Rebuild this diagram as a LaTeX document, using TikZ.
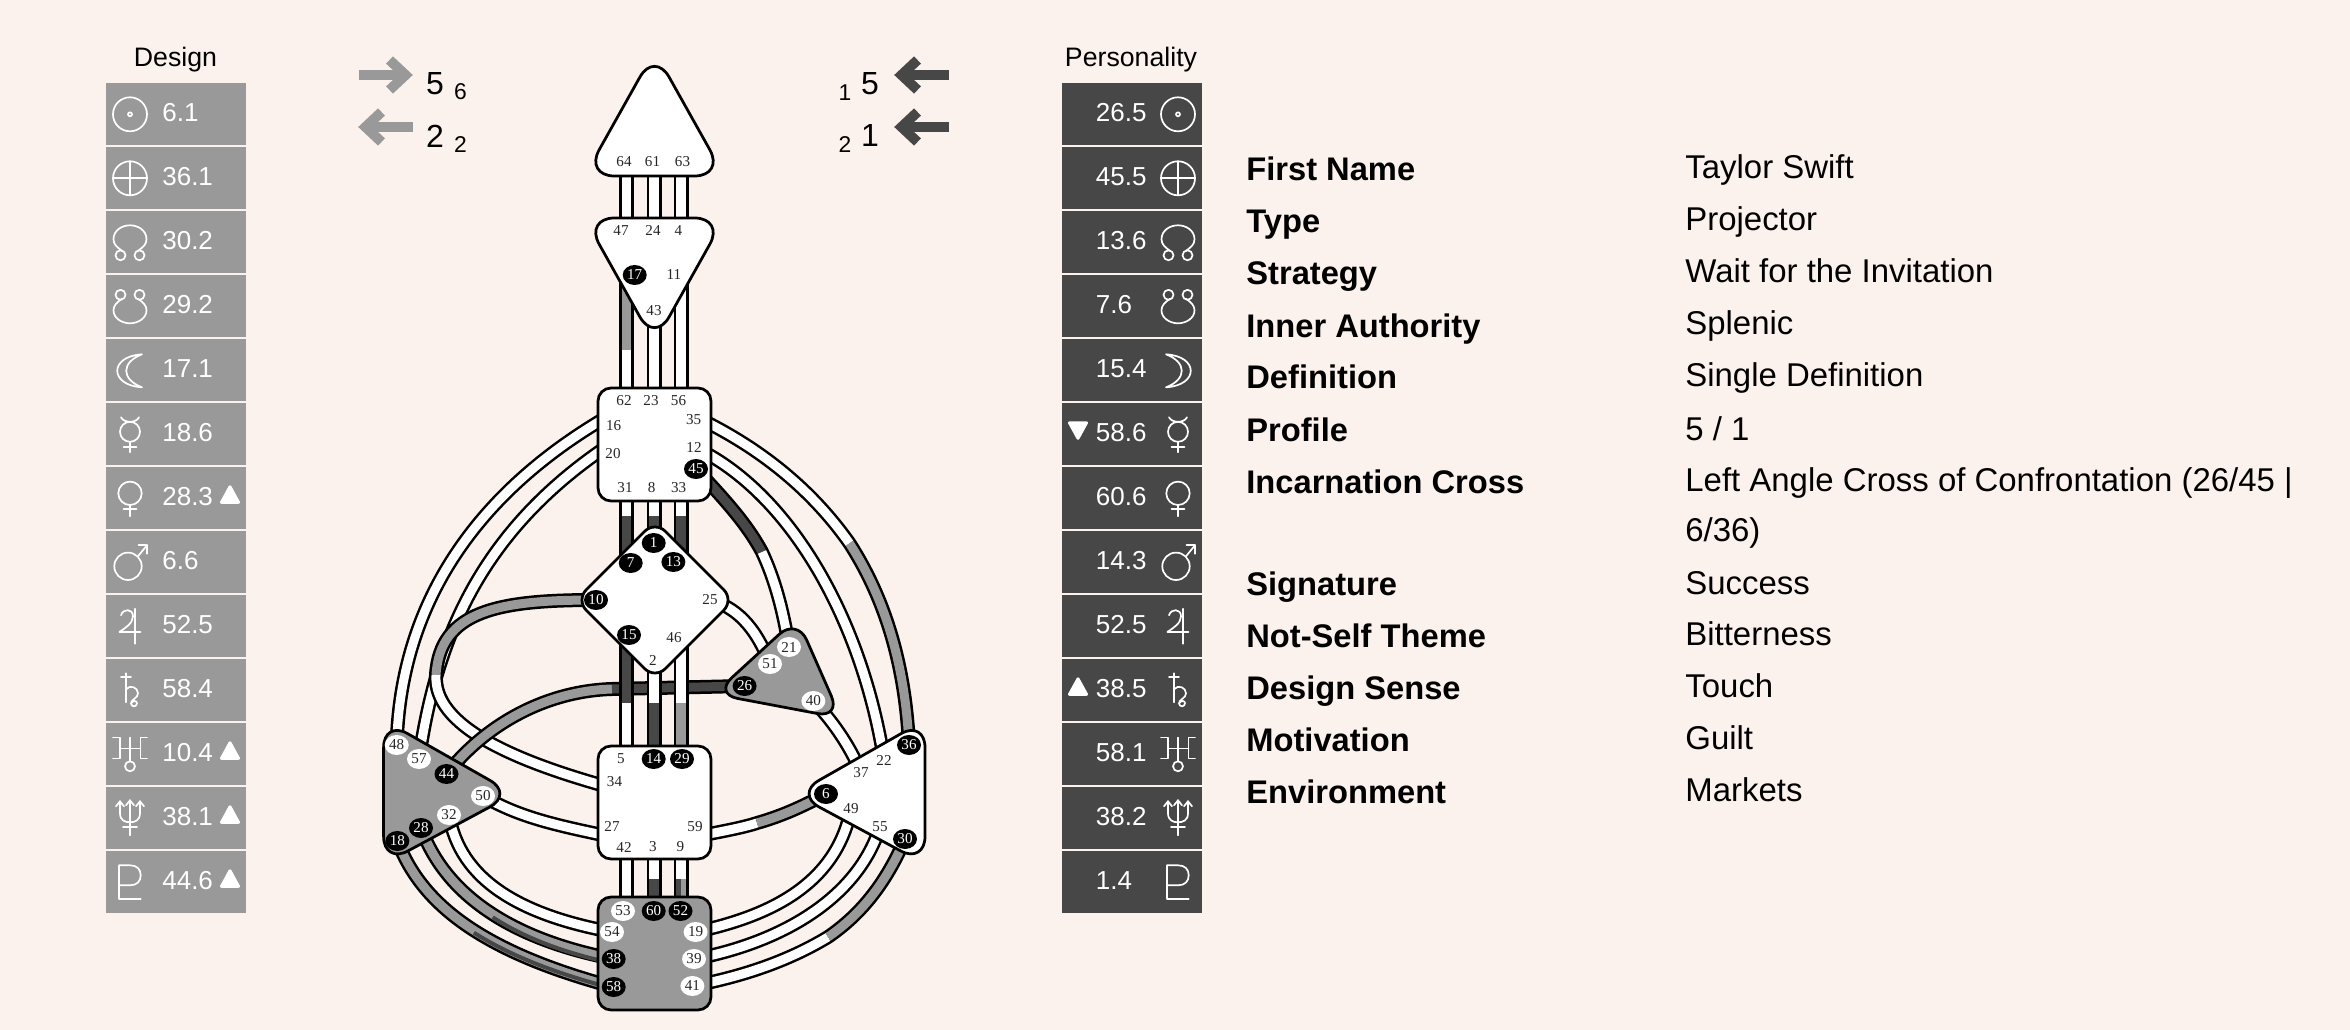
\documentclass[tikz,border=0pt]{standalone}
\usepackage{fontspec}
\setmainfont{Liberation Sans}
\newfontfamily\gatefont{Liberation Serif}
\usetikzlibrary{shapes.geometric,backgrounds}

\definecolor{pagebg}{HTML}{FCF2ED}
\definecolor{cgray}{HTML}{999999}
\definecolor{cdark}{HTML}{474747}

\def\chout{0.28cm}
\def\chin{0.18cm}
\newcommand{\chan}[2]{\draw[chanline] #1; \draw[chanfill,#2] #1;}
\newcommand{\chantwo}[7]{\draw[chanline] #1 #2 #3 #4 #5; \draw[chanfill,#6] #1 #2 #3; \draw[chanfill,#7] #3 #4 #5;}

\tikzset{
    chanline/.style={line width=\chout,black},
    chanfill/.style={line width=\chin},
    centerw/.style={draw=black,fill=white,line width=0.055cm},
    centerg/.style={draw=black,fill=cgray,line width=0.055cm},
    squarew/.style={centerw,rectangle,rounded corners=0.26cm,minimum width=2.26cm,minimum height=2.26cm,inner sep=0},
    squareg/.style={squarew,fill=cgray},
    gate/.style={font=\gatefont\fontsize{8.6}{10}\selectfont,inner sep=0,text=black!85},
    gateb/.style={gate,ellipse,fill=black,text=white,minimum width=0.48cm,minimum height=0.4cm},
    gatew/.style={gate,ellipse,fill=white,minimum width=0.48cm,minimum height=0.4cm},
    rowbox/.style={rectangle,minimum width=2.8cm,minimum height=1.24cm,inner sep=0},
    rowval/.style={font=\fontsize{14.8}{17}\selectfont,text=white,anchor=base west,inner sep=0},
    head/.style={font=\fontsize{15.2}{18}\selectfont,inner sep=0,anchor=base},
    tablab/.style={font=\bfseries\fontsize{18.6}{22}\selectfont,anchor=base west,inner sep=0},
    tabval/.style={font=\fontsize{18.75}{22}\selectfont,anchor=base west,inner sep=0},
    bignum/.style={font=\fontsize{18.2}{22}\selectfont,inner sep=0},
    subnum/.style={font=\fontsize{13}{16}\selectfont,inner sep=0},
    symb/.style={draw=white,line width=0.034cm,line cap=round,line join=round},
    pics/sun/.style={code={\draw[symb] (0,0) circle (17); \draw[symb] (0,0) circle (2);}},
    pics/earth/.style={code={\draw[symb] (0,0) circle (17); \draw[symb] (-17,0) -- (17,0); \draw[symb] (0,-17) -- (0,17);}},
    pics/nnode/.style={code={
        \draw[symb] (-8,8.5) .. controls (-13,5) and (-16.5,2) .. (-16.5,-3) .. controls (-16.5,-12) and (-8,-17) .. (0,-17)
            .. controls (8,-17) and (16.5,-12) .. (16.5,-3) .. controls (16.5,2) and (13,5) .. (8,8.5);
        \draw[symb] (-9.5,13) circle (5); \draw[symb] (9.5,13) circle (5);}},
    pics/snode/.style={code={
        \draw[symb] (-8,-7.5) .. controls (-13,-4) and (-16.5,-1) .. (-16.5,4) .. controls (-16.5,12) and (-8,17) .. (0,17)
            .. controls (8,17) and (16.5,12) .. (16.5,4) .. controls (16.5,-1) and (13,-4) .. (8,-7.5);
        \draw[symb] (-9.5,-11.5) circle (5); \draw[symb] (9.5,-11.5) circle (5);}},
    pics/moonl/.style={code={\draw[symb] (12,-16) .. controls (-21,-14) and (-21,15) .. (12,17) .. controls (-9,9) and (-9,-8) .. (12,-16) -- cycle;}},
    pics/moonr/.style={code={\draw[symb] (-12,-16) .. controls (21,-14) and (21,15) .. (-12,17) .. controls (9,9) and (9,-8) .. (-12,-16) -- cycle;}},
    pics/mercury/.style={code={
        \draw[symb] (0,-2.5) circle (10); \draw[symb] (0,7.5) -- (0,18); \draw[symb] (-6.5,12.5) -- (6.5,12.5);
        \draw[symb] (-9,-17) .. controls (-6,-11) and (6,-11) .. (9,-17);}},
    pics/venus/.style={code={\draw[symb] (0,-5) circle (11.7); \draw[symb] (0,6.7) -- (0,18); \draw[symb] (-6.5,11) -- (6.5,11);}},
    pics/mars/.style={code={
        \draw[symb] (-2,4) circle (13.7); \draw[symb] (7.7,-5.7) -- (17,-17);
        \draw[symb] (8.5,-17) -- (17,-17) -- (17,-8.5);}},
    pics/jupiter/.style={code={
        \draw[symb] (5,-17.5) -- (5,17.5); \draw[symb] (-10.5,5.5) -- (10.5,5.5);
        \draw[symb] (-9,-11) .. controls (-7,-18) and (3,-18) .. (3,-10) .. controls (3,-3) and (-5,2) .. (-10.5,5.5);}},
    pics/saturn/.style={code={
        \draw[symb] (-4,-17) -- (-4,12); \draw[symb] (-9,-13) -- (1,-13);
        \draw[symb] (-4,-1) .. controls (0,-6) and (8,-3) .. (8,3) .. controls (8,8) and (1,9) .. (1,13)
            .. controls (1,17) and (7,17) .. (7,13) .. controls (7,10) and (3,10) .. (1,13);}},
    pics/uranus/.style={code={
        \draw[symb] (0,12) circle (5); \draw[symb] (0,-16.7) -- (0,7); \draw[symb] (-10,-5.7) -- (10.5,-5.7);
        \draw[symb] (-17,-16.7) -- (-10,-16.7) -- (-10,4.3) -- (-17,4.3);
        \draw[symb] (17,-16.7) -- (10.5,-16.7) -- (10.5,4.3) -- (17,4.3);}},
    pics/neptune/.style={code={
        \draw[symb] (0,-18) -- (0,17); \draw[symb] (-7,9) -- (7,9);
        \draw[symb] (-10,-17) -- (-10,-5) .. controls (-10,2) and (-5,4) .. (0,4) .. controls (5,4) and (10,2) .. (10,-5) -- (10,-17);
        \draw[symb] (-14,-12) -- (-10,-17) -- (-6,-12);
        \draw[symb] (-4,-13) -- (0,-18) -- (4,-13);
        \draw[symb] (6,-12) -- (10,-17) -- (14,-12);}},
    pics/pluto/.style={code={
        \draw[symb] (-10.7,-17) -- (-10.7,17) -- (10.7,17);
        \draw[symb] (-10.7,-17) -- (0,-17) .. controls (7,-17) and (10.7,-13) .. (10.7,-7) .. controls (10.7,-1) and (7,3) .. (0,3) -- (-10.7,3);}},
    pics/markup/.style={code={\fill[white,draw=white,line width=0.06cm,line join=round] (-8.5,4) -- (8.5,4) -- (0,-11.5) -- cycle;}},
    pics/markdown/.style={code={\fill[white,draw=white,line width=0.06cm,line join=round] (-8.5,-11.5) -- (8.5,-11.5) -- (0,4) -- cycle;}},
    pics/arrowr/.style={code={\draw[line width=0.2cm] (-27,0) -- (20,0); \draw[line width=0.2cm] (4,-15) -- (20,0) -- (4,15);}},
    pics/arrowl/.style={code={\draw[line width=0.2cm] (27,0) -- (-20,0); \draw[line width=0.2cm] (-4,-15) -- (-20,0) -- (-4,15);}},
}

\begin{document}
\begin{tikzpicture}[x=0.02cm,y=-0.02cm]
    \useasboundingbox (0,0) rectangle (2350,1030);

    % left and right panels
    \node[head] (design) at (175.5,67) {Design};
    \node[head] (personality) at (1131,67) {Personality};
    \foreach \sym/\val [count=\i from 0] in {sun/6.1,earth/36.1,nnode/30.2,snode/29.2,moonl/17.1,mercury/18.6,venus/28.3,mars/6.6,jupiter/52.5,saturn/58.4,uranus/10.4,neptune/38.1,pluto/44.6}{
        \pgfmathsetmacro\ypos{114.3+64*\i}
        \node[rowbox,fill=cgray] (drow\i) at (176,\ypos) {};
        \node[rowval] (dval\i) at (162,\ypos+7.5) {\val};
        \path (130,\ypos) pic {\sym};
    }
    \foreach \sym/\val [count=\i from 0] in {sun/26.5,earth/45.5,nnode/13.6,snode/7.6,moonr/15.4,mercury/58.6,venus/60.6,mars/14.3,jupiter/52.5,saturn/38.5,uranus/58.1,neptune/38.2,pluto/1.4}{
        \pgfmathsetmacro\ypos{114.3+64*\i}
        \node[rowbox,fill=cdark] (prow\i) at (1132,\ypos) {};
        \node[rowval] (pval\i) at (1095.5,\ypos+7.5) {\val};
        \path (1178,\ypos) pic {\sym};
    }
    \foreach \i in {6,10,11,12}
        \path (230,114.3+64*\i) pic {markup};
    \path (1078,114.3+64*5) pic {markdown};
    \path (1078,114.3+64*9) pic {markup};

    % arrows at the top
    \begin{scope}[cgray]
        \path (385.5,75) pic {arrowr};
        \path (385.5,127) pic {arrowl};
    \end{scope}
    \begin{scope}[cdark]
        \path (921.5,75) pic {arrowl};
        \path (921.5,127) pic {arrowl};
    \end{scope}
    \node[bignum] (dline) at (435,84) {5};
    \node[subnum] (dcolor) at (460.5,92) {6};
    \node[bignum] (dtone) at (435,136) {2};
    \node[subnum] (dbase) at (460.5,145) {2};
    \node[bignum] (pline) at (870,84) {5};
    \node[subnum] (pcolor) at (845,93) {1};
    \node[bignum] (ptone) at (870,136) {1};
    \node[subnum] (pbase) at (845,145) {2};

    % table
    \foreach \lab/\val/\yl/\yv [count=\i] in {First Name/Taylor Swift/181/179,Type/Projector/233/231,Strategy/Wait for the Invitation/285/283,Inner Authority/Splenic/338/335,Definition/Single Definition/389/387,Profile/{5 / 1}/441/440,Incarnation Cross/{Left Angle Cross of Confrontation (26/45 |}/494/491,Signature/Success/595/594,Not-Self Theme/Bitterness/647/645,Design Sense/Touch/699/697,Motivation/Guilt/751/749,Environment/Markets/803/801}{
        \node[tablab] (lab\i) at (1246,\yl) {\lab};
        \node[tabval] (val\i) at (1685,\yv) {\val};
    }
    \node[tabval] (valcross) at (1685,541) {6/36)};

    % centers
    \draw[centerw,rounded corners=0.6cm] (654.5,51) -- (724.5,176) -- (584.5,176) -- cycle;
    \draw[centerw,rounded corners=0.6cm] (584.5,218) -- (724.5,218) -- (654.5,343) -- cycle;
    \node[squarew] (throat) at (654.5,444.5) {};
    \draw[centerw,rounded corners=0.29cm] (655,521) -- (734,600) -- (655,679) -- (576,600) -- cycle;
    \draw[centerg,rounded corners=0.48cm] (797,618) -- (841,718) -- (714,694) -- cycle;
    \node[squarew] (sacral) at (654.5,802.5) {};
    \node[squareg] (root) at (654.5,953.5) {};
    \draw[centerg,rounded corners=0.55cm] (383.6,720) -- (514,794) -- (383.6,864) -- cycle;
    \draw[centerw,rounded corners=0.55cm] (925,720) -- (795,794) -- (925,864) -- cycle;

    % gates
    \foreach \g/\gx/\gy in {64/624/162,61/652.5/162,63/682.5/162,47/621/231,24/653/231,4/678.5/231,11/674/275,43/654/311,62/624/401,23/651/401,56/678.5/401,16/613.7/426,20/613/454,35/693.6/420,12/694/447,31/625/488,8/651.7/488,33/678.6/488,25/710/600,46/674/638,2/653/660,22/884/760,37/861/773,49/851/809,55/880/827,5/621/759,34/614.5/782,27/612/826,59/695/827,42/624/847,3/653/847,9/680.5/847}
        \node[gate] (g\g) at (\gx,\gy) {\g};
    \foreach \g/\gx/\gy in {17/634.7/275,45/696/469,1/653.7/543,7/630.7/563,13/673.4/562,10/596/600,15/629/635,26/744.6/686,44/446.5/774,28/421/828,18/397.4/841,36/909/745,6/826/794,30/905/839,14/653.7/759,29/682/759,60/653.7/911,52/680.5/911,38/613.7/959,58/613.7/987}
        \node[gateb] (g\g) at (\gx,\gy) {\g};
    \foreach \g/\gx/\gy in {21/789/647,51/770/664,40/813.4/701,48/396.7/745,57/419/759,50/483/796,32/449/815,53/623/911,54/612/932,19/695.6/932,39/694/959,41/692.4/986}
        \node[gatew] (g\g) at (\gx,\gy) {\g};

    % channels go under the centers
    \begin{pgfonlayer}{background}
        \fill[pagebg] (0,0) rectangle (2350,1030);
        \coordinate (p16) at (612,414);
        \coordinate (p20) at (612,443);
        \coordinate (p34) at (612,788);
        \coordinate (p27) at (612,837);
        \coordinate (p59) at (698,836);
        \coordinate (p35) at (698,418);
        \coordinate (m10) at (436,675);
        \coordinate (m44) at (612,689);
        \coordinate (m36) at (849.5,543.3);
        \coordinate (m45) at (762,552);
        \coordinate (m6) at (757,823);
        \coordinate (m30) at (828,937);

        \chan{(g48.center) .. controls (400,610) and (470,495) .. (p16)}{white}
        \chan{(g57.center) .. controls (436,640) and (480,530) .. (p20)}{white}
        \chantwo{(g10.center)}{.. controls (500,600) and (440,610) ..}{(m10)}{.. controls (433,725) and (510,760) ..}{(p34)}{cgray}{white}
        \chantwo{(g44.center)}{.. controls (485,725) and (545,691) ..}{(m44)}{--}{(g26.center)}{cgray}{cdark}
        \chan{(g50.center) .. controls (520,818) and (560,826) .. (p27)}{white}
        \chan{(g32.center) .. controls (460,880) and (520,915) .. (g54.center)}{white}
        \chan{(g28.center) .. controls (440,880) and (490,935) .. (g38.center)}{cgray}
        \draw[cdark,line width=0.08cm,shift={(-0.6,2)}] (493.3,915.3) .. controls (522.2,934.1) and (560.8,950.1) .. (612,961);
        \chan{(g18.center) .. controls (420,900) and (475,950) .. (g58.center)}{cgray}
        \draw[cdark,line width=0.08cm,shift={(-0.6,2)}] (474.5,930.7) .. controls (507.2,951.6) and (551.6,970.2) .. (612,986);

        \chantwo{(p35)}{.. controls (761,448.5) and (811.75,489.75) ..}{(m36)}{.. controls (884,597) and (905,662) ..}{(g36.center)}{white}{cgray}
        \chan{(g12.center) .. controls (790,492) and (862,620) .. (g22.center)}{white}
        \chantwo{(g45.center)}{.. controls (735,510) and (750,530) ..}{(m45)}{.. controls (775,580) and (783,610) ..}{(g21.center)}{cdark}{white}
        \chan{(g25.center) .. controls (735,607) and (755,625) .. (g51.center)}{white}
        \chan{(g40.center) .. controls (830,718) and (850,745) .. (g37.center)}{white}
        \chantwo{(p59)}{.. controls (725,831) and (745,827) ..}{(m6)}{.. controls (785,815) and (805,805) ..}{(g6.center)}{white}{cgray}
        \chan{(g19.center) .. controls (760,918) and (835,890) .. (g49.center)}{white}
        \chan{(g39.center) .. controls (770,945) and (855,905) .. (g55.center)}{white}
        \chantwo{(g41.center)}{.. controls (745,976) and (790,960) ..}{(m30)}{.. controls (860,915) and (885,885) ..}{(g30.center)}{white}{cgray}

        % the three columns
        \def\chout{0.3cm}
        \def\chin{0.19cm}
        \coordinate (colL) at (626.5,0);
        \coordinate (colM) at (654,0);
        \coordinate (colR) at (681,0);
        \coordinate (colRa) at (678.5,0);
        \coordinate (colRb) at (683.5,0);
        \coordinate (s17) at (0,350);
        \coordinate (sTh) at (0,516);
        \coordinate (sSa) at (0,703);
        \coordinate (sRo) at (0,879);

        \chan{(colL |- g64) -- (colL |- g47)}{white}
        \chan{(colM |- g61) -- (colM |- g24)}{white}
        \chan{(colR |- g63) -- (colR |- g4)}{white}
        \chantwo{(colL |- g17)}{--}{(colL |- s17)}{--}{(colL |- g62)}{cgray}{white}
        \chan{(colM |- g43) -- (colM |- g23)}{white}
        \chan{(colR |- g11) -- (colR |- g56)}{white}
        \chantwo{(colL |- g31)}{--}{(colL |- sTh)}{--}{(colL |- g7)}{white}{cdark}
        \chantwo{(colM |- g8)}{--}{(colM |- sTh)}{--}{(colM |- g1)}{white}{cdark}
        \chantwo{(colR |- g33)}{--}{(colR |- sTh)}{--}{(colR |- g13)}{white}{cdark}
        \chantwo{(colL |- g15)}{--}{(colL |- sSa)}{--}{(colL |- g5)}{cdark}{white}
        \chantwo{(colM |- g2)}{--}{(colM |- sSa)}{--}{(colM |- g14)}{white}{cdark}
        \chantwo{(colR |- g46)}{--}{(colR |- sSa)}{--}{(colR |- g29)}{white}{cgray}
        \chan{(colL |- g42) -- (colL |- g53)}{white}
        \chantwo{(colM |- g3)}{--}{(colM |- sRo)}{--}{(colM |- g60)}{white}{cdark}
        \chan{(colR |- g9) -- (colR |- g52)}{white}
        \draw[cdark,line width=0.1cm] (colRa |- sRo) -- (colRa |- g52);
        \draw[cgray,line width=0.1cm] (colRb |- sRo) -- (colRb |- g52);
    \end{pgfonlayer}
\end{tikzpicture}
\end{document}
